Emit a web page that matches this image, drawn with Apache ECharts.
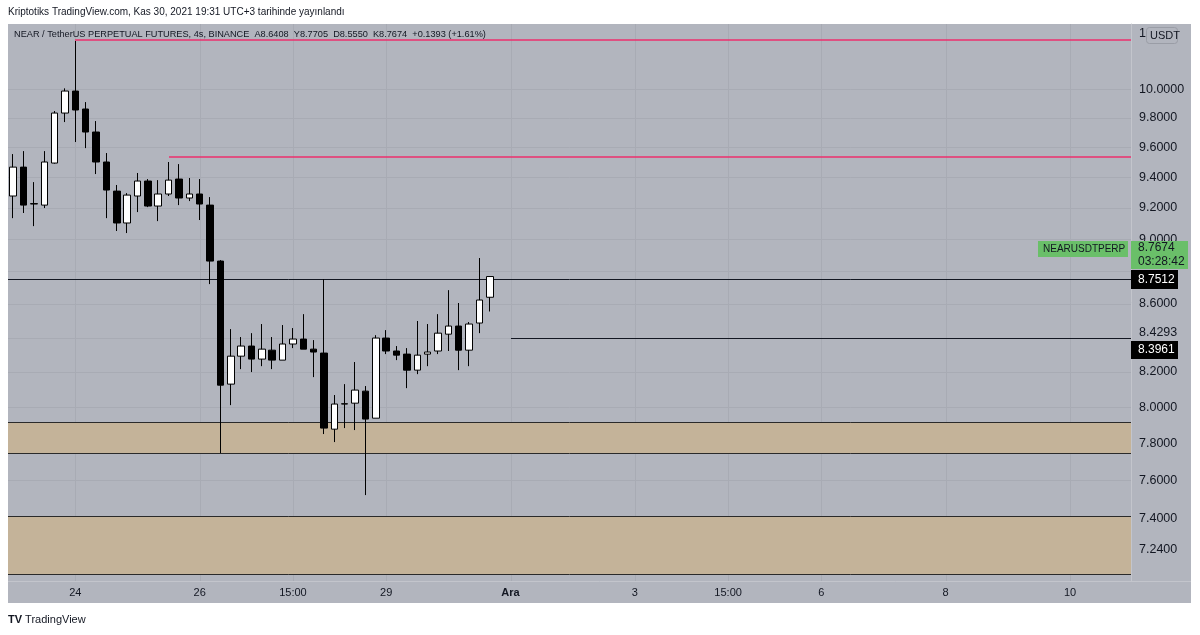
<!DOCTYPE html>
<html>
<head>
<meta charset="utf-8">
<script src="https://cdn.jsdelivr.net/npm/echarts@6/dist/echarts.min.js"></script>
<style>
  html, body { margin: 0; background: #fff; }
  #chart { width: 1200px; height: 635px; }
</style>
</head>
<body>
<div id="chart"></div>
<script>
// NEAR/USDT perp, 4h bars (UTC+3), first bar Nov 23 03:00
const barCount = 108;

const opens = [9.277, 9.467, 9.225, 9.218, 9.494, 9.833, 9.986, 9.861, 9.703, 9.501,
  9.309, 9.103, 9.277, 9.375, 9.212, 9.290, 9.388, 9.264, 9.290, 9.218,
  8.863, 8.130, 8.291, 8.350, 8.274, 8.326, 8.268, 8.362, 8.391, 8.332,
  8.309, 7.877, 8.017, 8.022, 8.090, 7.938, 8.397, 8.321, 8.303, 8.210,
  8.303, 8.321, 8.420, 8.468, 8.326, 8.486, 8.6408];
const closes = [9.467, 9.218, 9.228, 9.501, 9.833, 9.986, 9.854, 9.703, 9.501, 9.316,
  9.103, 9.283, 9.375, 9.212, 9.290, 9.381, 9.264, 9.290, 9.225, 8.863,
  8.124, 8.291, 8.350, 8.274, 8.332, 8.268, 8.362, 8.391, 8.332, 8.315,
  7.883, 8.017, 8.019, 8.096, 7.933, 8.397, 8.321, 8.297, 8.210, 8.297,
  8.315, 8.426, 8.468, 8.326, 8.480, 8.624, 8.7674];
const lows = [9.134, 9.167, 9.083, 9.199, 9.490, 9.771, 9.635, 9.594, 9.421, 9.134,
  9.052, 9.039, 9.173, 9.205, 9.115, 9.277, 9.218, 9.244, 9.122, 8.721,
  7.746, 8.011, 8.216, 8.199, 8.233, 8.216, 8.268, 8.338, 8.332, 8.170,
  7.850, 7.806, 7.883, 7.872, 7.521, 7.938, 8.303, 8.268, 8.107, 8.187,
  8.233, 8.303, 8.321, 8.210, 8.233, 8.426, 8.5550];
const highs = [9.554, 9.574, 9.368, 9.574, 9.847, 10.005, 10.343, 9.909, 9.778, 9.561,
  9.349, 9.296, 9.428, 9.388, 9.381, 9.501, 9.487, 9.395, 9.388, 9.270,
  8.869, 8.450, 8.403, 8.426, 8.480, 8.403, 8.474, 8.456, 8.539, 8.385,
  8.7512, 8.068, 8.130, 8.257, 8.119, 8.414, 8.444, 8.350, 8.338, 8.498,
  8.480, 8.539, 8.684, 8.606, 8.492, 8.882, 8.7705];

// time axis labels (bar index -> text)
const xTickIndex = [6, 18, 27, 36, 48, 60, 69, 78, 90, 102];
const xTickText = ['24', '26', '15:00', '29', 'Ara', '3', '15:00', '6', '8', '10'];

// price scale
const yTickValues = [10.4, 10.0, 9.8, 9.6, 9.4, 9.2, 9.0, 8.6, 8.4293, 8.2, 8.0, 7.8, 7.6, 7.4, 7.24];
const yTickText = ['10.4000', '10.0000', '9.8000', '9.6000', '9.4000', '9.2000', '9.0000', '8.6000',
  '8.4293', '8.2000', '8.0000', '7.8000', '7.6000', '7.4000', '7.2400'];
const yGridValues = [10.0, 9.8, 9.6, 9.4, 9.2, 9.0, 8.8, 8.6, 8.4, 8.2, 8.0, 7.8, 7.6, 7.4, 7.24];

// drawn horizontal levels (start bar, price)
const levelStart = [6, 15, null, 48];
const levelValue = [10.35, 9.534, 8.7512, 8.3961];
const levelColor = ['#ec2f6c', '#ec2f6c', '#131722', '#131722'];
const levelWidth = [1.5, 1.5, 1, 1];

// support zones
const zoneLow = [7.746, 7.115];
const zoneHigh = [7.918, 7.410];

const BG = '#b2b5be';
const GRID = '#a8abb4';
const SEP = '#c3c5cc';
const TXT = '#131722';
const FONT = '"Liberation Sans", Arial, sans-serif';
const EXTRA = 4; // pane runs a little past the last bar slot

const start = Date.UTC(2021, 10, 23, 0);
const categories = [];
for (let i = 0; i < barCount; i++) {
  categories.push(new Date(start + i * 4 * 3600 * 1000).toISOString().slice(0, 16));
}
const candles = opens.map((o, i) => [o, closes[i], lows[i], highs[i]]);

const chart = echarts.init(document.getElementById('chart'));

chart.setOption({
  animation: false,
  grid: { left: 8, right: 73, top: 24, bottom: 54 },
  xAxis: {
    type: 'category',
    data: categories,
    boundaryGap: true,
    axisLine: { show: false },
    axisTick: { show: false },
    splitLine: { show: false },
    axisLabel: {
      interval: (index) => xTickIndex.includes(index),
      formatter: (value, index) => {
        const t = xTickText[xTickIndex.indexOf(index)];
        return t === 'Ara' ? '{b|Ara}' : t;
      },
      color: TXT,
      fontSize: 11,
      fontFamily: FONT,
      margin: 6,
      rich: { b: { fontWeight: 'bold', fontSize: 11, color: TXT, fontFamily: FONT } }
    }
  },
  yAxis: {
    type: 'log',
    logBase: 10,
    min: 7.081,
    max: 10.467,
    position: 'right',
    offset: EXTRA,
    axisLine: { show: true, lineStyle: { color: SEP } },
    axisTick: { show: false },
    axisLabel: { show: false },
    splitLine: { show: false }
  },
  series: [
    {
      // horizontal grid
      type: 'custom',
      z: 1,
      silent: true,
      data: yGridValues.map(v => [0, v]),
      renderItem: (params, api) => {
        const cs = params.coordSys;
        const y = Math.round(api.coord([0, api.value(1)])[1]) + 0.5;
        return { type: 'line', shape: { x1: cs.x, y1: y, x2: cs.x + cs.width + EXTRA, y2: y },
          style: { stroke: GRID, lineWidth: 1 } };
      }
    },
    {
      // vertical grid + time axis border
      type: 'custom',
      z: 1,
      silent: true,
      clip: false,
      data: xTickIndex.map(i => [i, 8]),
      renderItem: (params, api) => {
        const cs = params.coordSys;
        const x = Math.round(api.coord([api.value(0), 8])[0]) + 0.5;
        const children = [{ type: 'line', shape: { x1: x, y1: cs.y, x2: x, y2: cs.y + cs.height },
          style: { stroke: GRID, lineWidth: 1 } }];
        if (params.dataIndex === 0) {
          const yb = cs.y + cs.height + 0.5;
          children.push({ type: 'line', shape: { x1: cs.x, y1: yb, x2: 1191, y2: yb },
            style: { stroke: SEP, lineWidth: 1 } });
        }
        return { type: 'group', children: children };
      }
    },
    {
      // price labels on the right scale
      type: 'custom',
      z: 3,
      silent: true,
      clip: false,
      data: yTickValues.map(v => [0, v]),
      renderItem: (params, api) => {
        const cs = params.coordSys;
        const y = api.coord([0, api.value(1)])[1];
        return { type: 'text', x: cs.x + cs.width + EXTRA + 8, y: y,
          style: { text: yTickText[params.dataIndex], fill: TXT, font: '12.5px ' + FONT,
            align: 'left', verticalAlign: 'middle' } };
      }
    },
    {
      // zones
      type: 'custom',
      z: 2,
      silent: true,
      clip: false,
      encode: { x: 0, y: [1, 2] },
      data: zoneLow.map((lo, i) => [0, lo, zoneHigh[i]]),
      renderItem: (params, api) => {
        const cs = params.coordSys;
        const x2 = cs.x + cs.width + EXTRA;
        const yTop = Math.round(api.coord([0, api.value(2)])[1]) + 0.5;
        const yBot = Math.round(api.coord([0, api.value(1)])[1]) + 0.5;
        return { type: 'group', children: [
          { type: 'rect', shape: { x: cs.x, y: yTop, width: x2 - cs.x, height: yBot - yTop },
            style: { fill: '#c4b399' } },
          { type: 'line', shape: { x1: cs.x, y1: yTop, x2: x2, y2: yTop },
            style: { stroke: '#2a2a2a', lineWidth: 1 } },
          { type: 'line', shape: { x1: cs.x, y1: yBot, x2: x2, y2: yBot },
            style: { stroke: '#2a2a2a', lineWidth: 1 } }
        ] };
      }
    },
    {
      // horizontal levels
      type: 'custom',
      z: 3,
      silent: true,
      clip: false,
      data: levelValue.map((v, i) => [levelStart[i] === null ? 0 : levelStart[i], v]),
      renderItem: (params, api) => {
        const cs = params.coordSys;
        const i = params.dataIndex;
        const p = api.coord([api.value(0), api.value(1)]);
        const x1 = levelStart[i] === null ? cs.x : Math.round(p[0]);
        const y = levelWidth[i] === 1 ? Math.round(p[1]) + 0.5 : Math.round(p[1]);
        return { type: 'line', shape: { x1: x1, y1: y, x2: cs.x + cs.width + EXTRA, y2: y },
          style: { stroke: levelColor[i], lineWidth: levelWidth[i] } };
      }
    },
    {
      type: 'candlestick',
      z: 4,
      barWidth: 7,
      data: candles,
      itemStyle: {
        color: '#ffffff',
        color0: '#000000',
        borderColor: '#000000',
        borderColor0: '#000000',
        borderWidth: 1
      }
    }
  ]
});

const py = (v) => chart.convertToPixel({ yAxisIndex: 0 }, v);
const yLast = Math.round(py(8.7512));
const yLine = Math.round(py(8.3961));

function box(x, y, w, h, fill) {
  return { type: 'rect', z: 100, shape: { x: x, y: y, width: w, height: h }, style: { fill: fill } };
}
function label(x, y, text, fill, size) {
  return { type: 'text', z: 101, x: x, y: y,
    style: { text: text, fill: fill, font: (size || 12) + 'px ' + FONT, align: 'left', verticalAlign: 'middle' } };
}

chart.setOption({
  graphic: [
    { type: 'rect', z: -100, shape: { x: 8, y: 24, width: 1183, height: 579 }, style: { fill: BG } },
    { type: 'text', x: 8, y: 12, style: { text: 'Kriptotiks TradingView.com, Kas 30, 2021 19:31 UTC+3 tarihinde yayınlandı',
      fill: TXT, font: '10px ' + FONT, verticalAlign: 'middle' } },
    { type: 'text', z: 50, x: 14, y: 34, style: { text: 'NEAR / TetherUS PERPETUAL FUTURES, 4s, BINANCE  A8.6408  Y8.7705  D8.5550  K8.7674  +0.1393 (+1.61%)',
      fill: TXT, font: '9.2px ' + FONT, verticalAlign: 'middle' } },
    // USDT badge on top of the scale
    box(1146, 25, 45, 19, BG),
    { type: 'rect', z: 100, shape: { x: 1146.5, y: 27.5, width: 31, height: 16, r: 3 },
      style: { fill: BG, stroke: '#9a9da6', lineWidth: 1 } },
    label(1150, 35.5, 'USDT', TXT, 11),
    // last price
    box(1038, yLast - 38, 90, 16, '#6abf69'),
    label(1043, yLast - 30, 'NEARUSDTPERP', TXT, 10),
    box(1131, yLast - 38, 57, 28, '#6abf69'),
    label(1138, yLast - 31, '8.7674', TXT, 12),
    label(1138, yLast - 17, '03:28:42', TXT, 12),
    box(1131, yLast - 9, 47, 19, '#000000'),
    label(1138, yLast + 1, '8.7512', '#ffffff', 12),
    box(1131, yLine + 3, 47, 18, '#000000'),
    label(1138, yLine + 12, '8.3961', '#ffffff', 12),
    // footer
    { type: 'text', x: 8, y: 620, style: { text: '{l|TV} TradingView', fill: TXT, font: '11px ' + FONT,
      verticalAlign: 'middle', rich: { l: { fontWeight: 'bold', fontSize: 11, fill: TXT } } } }
  ]
});
</script>
</body>
</html>
